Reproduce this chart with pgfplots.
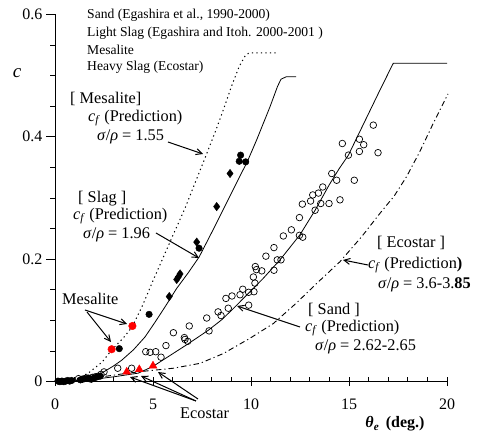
\documentclass[border=0pt]{standalone}
\usepackage{fontspec}
\setmainfont{Liberation Serif}
\usepackage{pgfplots}
\pgfplotsset{compat=1.18}
\usetikzlibrary{arrows.meta}

\pgfplotstableread{
x y
3.20 0.022
3.91 0.022
4.63 0.049
4.85 0.048
5.14 0.049
5.41 0.040
5.66 0.059
6.04 0.080
6.60 0.072
6.63 0.069
6.77 0.066
6.85 0.091
7.74 0.104
7.86 0.083
8.32 0.114
8.47 0.108
8.72 0.136
8.84 0.120
9.03 0.140
9.44 0.142
9.58 0.151
9.88 0.146
9.88 0.125
10.15 0.147
10.12 0.171
10.20 0.161
10.22 0.188
10.28 0.183
10.55 0.181
10.76 0.205
11.17 0.182
11.34 0.199
11.53 0.199
11.17 0.219
11.65 0.238
12.06 0.248
12.47 0.268
12.47 0.239
12.64 0.236
12.62 0.290
13.04 0.295
13.15 0.305
13.27 0.280
13.44 0.308
13.56 0.291
13.66 0.318
13.98 0.291
14.12 0.340
14.37 0.329
14.54 0.297
14.66 0.389
14.97 0.370
15.27 0.329
15.53 0.396
15.75 0.387
15.53 0.376
16.24 0.419
16.48 0.374
1.20 0.005
1.40 0.004
1.60 0.006
1.75 0.005
1.90 0.007
2.05 0.008
2.20 0.009
2.35 0.012
2.50 0.016
}\sanddata

\pgfplotstableread{
x y
0.15 0.001
0.25 0.000
0.35 0.001
0.45 0.000
0.55 0.001
0.65 0.002
0.75 0.001
0.85 0.002
1.30 0.003
1.50 0.005
1.70 0.006
1.85 0.004
2.00 0.006
2.15 0.008
2.30 0.009
9.47 0.370
9.40 0.360
9.73 0.359
7.35 0.218
4.80 0.110
3.28 0.054
}\slagcirc

\pgfplotstableread{
x y
8.93 0.340
8.25 0.286
7.23 0.228
6.38 0.176
6.29 0.171
6.21 0.167
5.83 0.139
}\slagdiam

\begin{document}
\begin{tikzpicture}
\path[use as bounding box] (0,0) rectangle (485bp,435bp);
\begin{axis}[
  at={(55bp,53.3bp)}, anchor=south west,
  scale only axis, width=392bp, height=367.4bp,
  xmin=0, xmax=20, ymin=0, ymax=0.6,
  clip=false,
  axis x line=bottom, axis y line=left,
  axis line style={-, line width=0.8bp},
  xtick={0,5,10,15,20}, ytick={0,0.2,0.4,0.6},
  minor x tick num=4, minor y tick num=3,
  xtick align=inside, ytick align=outside,
  major tick length=9bp, minor tick length=5bp,
  major x tick style={yshift=-4.5bp},
  every tick/.style={black, line width=0.8bp},
  tick label style={font=\fontsize{16bp}{18bp}\selectfont},
  xticklabel style={yshift=-14bp},
  /pgf/number format/assume math mode=true,
  yticklabel style={/pgf/number format/fixed},
]
% predictions
\addplot[black, line width=1bp, dash pattern=on 1.3bp off 3.2bp] coordinates {
(0,0) (0.5,0.0005) (1,0.003) (1.7,0.014) (2.4,0.032) (2.9,0.052) (3.5,0.072)
(3.95,0.09) (4.5,0.127) (5,0.165) (5.55,0.205) (6.1,0.245) (6.63,0.283)
(7.15,0.325) (7.65,0.365) (8.2,0.41) (8.6,0.445) (9.0,0.482) (9.4,0.515)
(9.7,0.532) (9.9,0.537) (11.3,0.537)};
\addplot[black, line width=0.8bp] coordinates {
(0,0) (1,0.002) (1.5,0.005) (2,0.009) (2.38,0.014) (3,0.026) (3.4,0.035)
(4,0.052) (4.59,0.073) (5.1,0.097) (5.61,0.122) (6.2,0.152) (6.8,0.178)
(7.36,0.204) (8,0.244) (8.5,0.276) (9,0.308) (9.5,0.34) (9.78,0.357)
(10.29,0.395) (10.97,0.449) (11.35,0.482) (11.53,0.494) (11.8,0.498) (12.3,0.498)};
\addplot[black, line width=0.8bp] coordinates {
(0,0) (1,0.001) (2,0.004) (3,0.008) (4.25,0.014) (5,0.025) (5.78,0.041)
(6.8,0.062) (7.82,0.084) (8.5,0.101) (9.18,0.122) (9.7,0.139) (10.2,0.155)
(10.63,0.169) (11.48,0.199) (12.5,0.240) (13.27,0.280) (14.0,0.322)
(14.5,0.348) (14.97,0.370) (15.5,0.405) (16,0.438) (16.5,0.471) (16.84,0.493)
(17.1,0.51) (17.26,0.52) (20,0.52)};
\addplot[black, line width=0.9bp, dash pattern=on 5.5bp off 3bp on 1.2bp off 3bp] coordinates {
(0,0) (1.5,0.003) (2.4,0.008) (3.5,0.013) (4.5,0.017) (6.04,0.022) (7.4,0.030)
(8.59,0.046) (9.95,0.071) (11.14,0.095) (12.3,0.128) (13.4,0.162) (14.54,0.196)
(15.65,0.237) (16.58,0.275) (17.3,0.303) (17.94,0.335) (18.6,0.375) (19.3,0.422)
(20.05,0.470)};
% data
\addplot[only marks, mark=o, mark size=3.3bp, mark options={black, line width=0.7bp}] table {\sanddata};
\addplot[only marks, mark=*, mark size=3.3bp, mark options={black, fill=black}] table {\slagcirc};
\addplot[only marks, mark=diamond*, mark size=4.2bp, mark options={black, fill=black}] table {\slagdiam};
\addplot[only marks, mark=*, mark size=3.8bp, mark options={draw=red, fill=red}] coordinates {(3.95,0.091) (2.89,0.053)};
\addplot[only marks, mark=triangle*, mark size=4.6bp, mark options={draw=red, fill=red}] coordinates {(3.66,0.016) (4.30,0.020) (5.0,0.026)};
\end{axis}

\begin{scope}[x=1bp, y=-1bp, shift={(0,435bp)}]
\tikzset{lab/.style={anchor=west, inner sep=0pt, font=\fontsize{16.3bp}{18bp}\selectfont},
         leg/.style={anchor=west, inner sep=0pt, font=\fontsize{13.6bp}{16bp}\selectfont},
         arr/.style={line width=1bp, -{Straight Barb[length=6bp, width=6bp]}}}
% axis labels
\node[anchor=center, inner sep=0pt, font=\fontsize{19bp}{20bp}\selectfont\itshape] at (17,73) {c};
\node[anchor=center, inner sep=0pt, font=\fontsize{16bp}{18bp}\selectfont] at (395,424) {\textbf{\textit{θ}\textsubscript{\textit{e}}}\, \textbf{(deg.)}};
% legend text
\node[leg] at (87,15) {Sand (Egashira et al., 1990-2000)};
\node[leg] at (87,33) {Light Slag (Egashira and Itoh. 2000-2001 )};
\node[leg] at (87,50) {Mesalite};
\node[leg] at (87,67) {Heavy Slag (Ecostar)};
% mesalite
\node[lab] at (70,99) {[ Mesalite]};
\node[lab] at (88,118) {\textit{c}\textsubscript{\textit{f}} (Prediction)};
\node[lab] at (97,137) {\textit{σ}/\textit{ρ} = 1.55};
\draw[arr] (168,142) -- (203,154);
% slag
\node[lab] at (78,199) {[ Slag ]};
\node[lab] at (73,216) {\textit{c}\textsubscript{\textit{f}} (Prediction)};
\node[lab] at (83,235) {\textit{σ}/\textit{ρ} = 1.96};
\draw[arr] (156,233) -- (199,258);
% mesalite points
\node[lab] at (62,299) {Mesalite};
\draw[arr] (85,310) -- (127,324);
\draw[arr] (87,312) -- (111,342);
% ecostar points
\node[lab] at (180,413) {Ecostar};
\draw[arr] (196,401) -- (130,377);
\draw[arr] (196,401) -- (141,376);
\draw[arr] (198,399) -- (158,372);
% sand
\node[lab] at (308,310) {[ Sand ]};
\node[lab] at (305,328) {\textit{c}\textsubscript{\textit{f}} (Prediction)};
\node[lab] at (315,347) {\textit{σ}/\textit{ρ} = 2.62-2.65};
\draw[arr] (300,327) -- (237,306);
% ecostar
\node[lab] at (377,243) {[ Ecostar ]};
\node[lab] at (368,265) {\textit{c}\textsubscript{\textit{f}} (Prediction\textbf{)}};
\node[lab] at (378,285) {\textit{σ}/\textit{ρ} = 3.6-3.\textbf{85}};
\draw[arr] (368,265) -- (343,260);
\end{scope}
\end{tikzpicture}
\end{document}
